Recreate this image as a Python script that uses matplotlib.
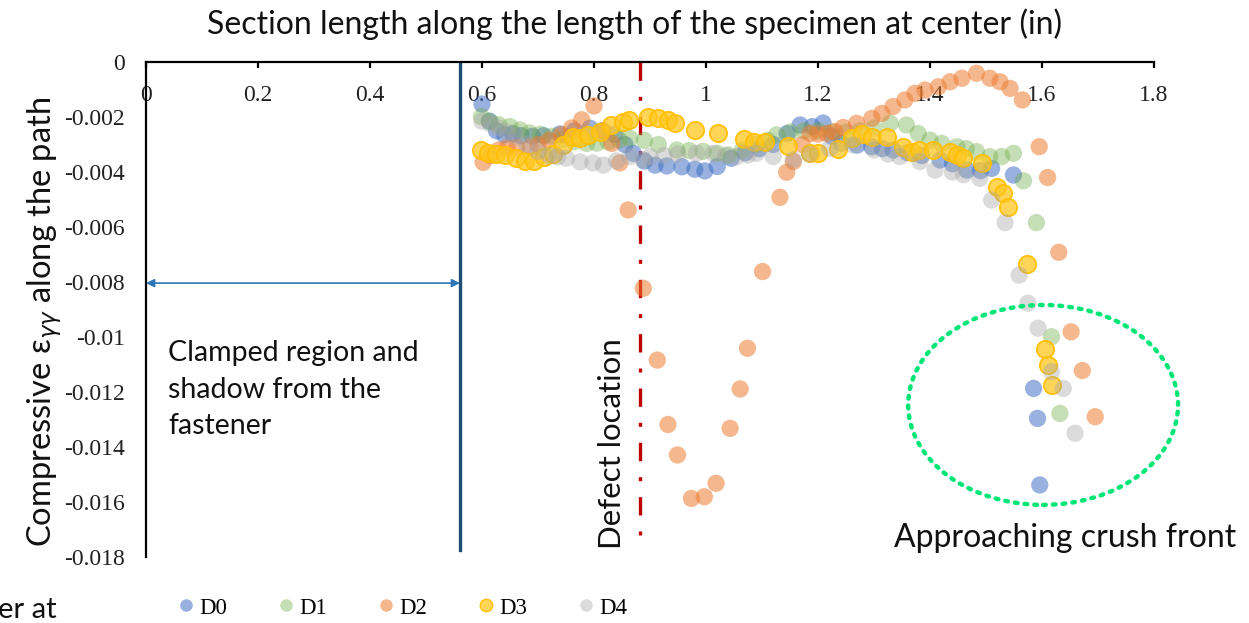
import matplotlib
matplotlib.use("Agg")
import matplotlib.pyplot as plt
from matplotlib.patches import Ellipse
from matplotlib.lines import Line2D

# ---------------- data ----------------
x_ticks = [0, 0.2, 0.4, 0.6, 0.8, 1.0, 1.2, 1.4, 1.6, 1.8]
x_tick_labels = ["0", "0.2", "0.4", "0.6", "0.8", "1", "1.2", "1.4", "1.6", "1.8"]
y_ticks = [0, -0.002, -0.004, -0.006, -0.008, -0.01, -0.012, -0.014, -0.016, -0.018]
y_tick_labels = ["0", "-0.002", "-0.004", "-0.006", "-0.008", "-0.01", "-0.012", "-0.014", "-0.016", "-0.018"]

d0_x = [0.600, 0.613, 0.626, 0.640, 0.655, 0.670, 0.690, 0.710, 0.739, 0.765, 0.793, 0.815, 0.837, 0.855,
        0.870, 0.890, 0.909, 0.930, 0.957, 0.980, 0.998, 1.020, 1.045, 1.070, 1.095, 1.120, 1.145, 1.168,
        1.190, 1.209, 1.225, 1.242, 1.270, 1.296, 1.315, 1.334, 1.360, 1.385, 1.418, 1.440, 1.466, 1.490,
        1.510, 1.549, 1.585, 1.592, 1.596]
d0_y = [-0.00153, -0.00215, -0.00250, -0.00265, -0.00260, -0.00268, -0.00270, -0.00268, -0.00262, -0.00250,
        -0.00241, -0.00250, -0.00263, -0.00300, -0.00332, -0.00360, -0.00375, -0.00378, -0.00381, -0.00390,
        -0.00396, -0.00380, -0.00350, -0.00330, -0.00315, -0.00300, -0.00260, -0.00229, -0.00235, -0.00222,
        -0.00270, -0.00296, -0.00302, -0.00308, -0.00315, -0.00320, -0.00330, -0.00340, -0.00356, -0.00370,
        -0.00393, -0.00395, -0.00387, -0.00411, -0.01187, -0.01296, -0.01538]

d1_x = [0.599, 0.614, 0.630, 0.650, 0.668, 0.685, 0.704, 0.725, 0.745, 0.765, 0.787, 0.805, 0.825, 0.845,
        0.864, 0.890, 0.915, 0.948, 0.970, 0.995, 1.020, 1.040, 1.065, 1.090, 1.110, 1.126, 1.150, 1.175,
        1.200, 1.225, 1.250, 1.275, 1.300, 1.329, 1.358, 1.379, 1.400, 1.421, 1.448, 1.465, 1.483, 1.507,
        1.528, 1.549, 1.567, 1.590, 1.617, 1.632]
d1_y = [-0.00199, -0.00217, -0.00228, -0.00235, -0.00247, -0.00258, -0.00263, -0.00270, -0.00280, -0.00290,
        -0.00296, -0.00295, -0.00290, -0.00283, -0.00278, -0.00285, -0.00300, -0.00320, -0.00322, -0.00325,
        -0.00332, -0.00338, -0.00320, -0.00300, -0.00285, -0.00265, -0.00255, -0.00250, -0.00250, -0.00255,
        -0.00255, -0.00250, -0.00240, -0.00223, -0.00229, -0.00260, -0.00284, -0.00296, -0.00308, -0.00315,
        -0.00326, -0.00344, -0.00344, -0.00332, -0.00432, -0.00584, -0.00999, -0.01278]

d2_x = [0.602, 0.615, 0.630, 0.645, 0.662, 0.686, 0.700, 0.720, 0.742, 0.760, 0.778, 0.800, 0.815, 0.832,
        0.846, 0.861, 0.888, 0.913, 0.932, 0.949, 0.974, 0.997, 1.018, 1.043, 1.061, 1.074, 1.101, 1.132,
        1.144, 1.156, 1.172, 1.186, 1.200, 1.216, 1.230, 1.245, 1.269, 1.296, 1.314, 1.334, 1.355, 1.373,
        1.391, 1.415, 1.436, 1.457, 1.483, 1.507, 1.525, 1.543, 1.565, 1.595, 1.610, 1.630, 1.652, 1.672,
        1.695]
d2_y = [-0.00365, -0.00340, -0.00320, -0.00312, -0.00310, -0.00310, -0.00300, -0.00285, -0.00265, -0.00240,
        -0.00210, -0.00160, -0.00250, -0.00296, -0.00367, -0.00538, -0.00823, -0.01084, -0.01318, -0.01429,
        -0.01587, -0.01581, -0.01532, -0.01332, -0.01189, -0.01041, -0.00762, -0.00492, -0.00401, -0.00362,
        -0.00300, -0.00260, -0.00262, -0.00260, -0.00253, -0.00238, -0.00223, -0.00205, -0.00187, -0.00162,
        -0.00138, -0.00114, -0.00102, -0.00090, -0.00072, -0.00059, -0.00041, -0.00059, -0.00072, -0.00096,
        -0.00138, -0.00308, -0.00420, -0.00692, -0.00981, -0.01122, -0.01290]

d3_x = [0.599, 0.611, 0.625, 0.641, 0.660, 0.677, 0.692, 0.710, 0.727, 0.745, 0.763, 0.775, 0.790, 0.811,
        0.830, 0.852, 0.862, 0.897, 0.915, 0.933, 0.945, 0.980, 1.022, 1.067, 1.085, 1.105, 1.147, 1.186,
        1.200, 1.236, 1.260, 1.278, 1.296, 1.323, 1.352, 1.367, 1.380, 1.406, 1.436, 1.448, 1.459, 1.492,
        1.519, 1.531, 1.540, 1.573, 1.605, 1.611, 1.617]
d3_y = [-0.00320, -0.00332, -0.00335, -0.00338, -0.00350, -0.00360, -0.00360, -0.00345, -0.00336, -0.00300,
        -0.00272, -0.00275, -0.00265, -0.00253, -0.00230, -0.00217, -0.00212, -0.00199, -0.00205, -0.00211,
        -0.00223, -0.00247, -0.00259, -0.00280, -0.00290, -0.00290, -0.00304, -0.00332, -0.00330, -0.00316,
        -0.00277, -0.00260, -0.00271, -0.00271, -0.00308, -0.00326, -0.00320, -0.00320, -0.00326, -0.00338,
        -0.00350, -0.00368, -0.00453, -0.00477, -0.00526, -0.00736, -0.01044, -0.01102, -0.01175]

d4_x = [0.600, 0.615, 0.630, 0.645, 0.660, 0.680, 0.700, 0.720, 0.735, 0.751, 0.775, 0.798, 0.817, 0.840,
        0.864, 0.888, 0.900, 0.925, 0.950, 0.983, 1.013, 1.035, 1.055, 1.075, 1.090, 1.120, 1.156, 1.185,
        1.221, 1.263, 1.300, 1.325, 1.346, 1.382, 1.409, 1.440, 1.460, 1.489, 1.510, 1.534, 1.559, 1.575,
        1.593, 1.617, 1.638, 1.659]
d4_y = [-0.00215, -0.00225, -0.00240, -0.00255, -0.00270, -0.00300, -0.00325, -0.00340, -0.00345, -0.00350,
        -0.00363, -0.00367, -0.00375, -0.00360, -0.00344, -0.00356, -0.00344, -0.00340, -0.00335, -0.00332,
        -0.00332, -0.00340, -0.00344, -0.00338, -0.00332, -0.00344, -0.00356, -0.00335, -0.00314, -0.00302,
        -0.00320, -0.00335, -0.00344, -0.00362, -0.00393, -0.00400, -0.00410, -0.00423, -0.00502, -0.00584,
        -0.00775, -0.00877, -0.00968, -0.01126, -0.01187, -0.01350]

series_names = ["D0", "D1", "D2", "D3", "D4"]

clamp_x = 0.5607
defect_x = 0.882
arrow_y = -0.00804
crush_center = (1.602, -0.01247)

# ---------------- styling ----------------
W, H = 1249, 623
fig = plt.figure(figsize=(W / 100, H / 100), dpi=100)
L, R, T, B = 146, 1154, 62, 557
ax = fig.add_axes([L / W, 1 - B / H, (R - L) / W, (B - T) / H])

serif = "Liberation Serif"
sans = ["Lato", "DejaVu Sans"]
plt.rcParams["mathtext.fontset"] = "dejavusans"

styles = [
    dict(facecolor=(0.267, 0.447, 0.769, 0.55), edgecolor="none"),
    dict(facecolor=(0.439, 0.678, 0.278, 0.40), edgecolor="none"),
    dict(facecolor=(0.929, 0.490, 0.192, 0.55), edgecolor="none"),
    dict(facecolor=(1.0, 0.78, 0.12, 0.75), edgecolor=(1.0, 0.75, 0.0, 0.95), linewidths=1.3),
    dict(facecolor=(0.647, 0.647, 0.647, 0.40), edgecolor="none"),
]
data = [(d0_x, d0_y), (d1_x, d1_y), (d2_x, d2_y), (d3_x, d3_y), (d4_x, d4_y)]
for (xs, ys), st in zip(data, styles):
    ax.scatter(xs, ys, s=155, zorder=3, **st)

ax.set_xlim(0, 1.8)
ax.set_ylim(-0.018, 0)

ax.spines["right"].set_visible(False)
ax.spines["bottom"].set_visible(False)
ax.spines["left"].set_linewidth(1.6)
ax.spines["top"].set_linewidth(1.6)

ax.set_xticks(x_ticks)
ax.set_xticklabels(x_tick_labels, fontfamily=serif, fontsize=17, color="#222222")
ax.xaxis.tick_top()
ax.tick_params(axis="x", direction="in", length=4, width=1.6, pad=-32,
               labeltop=True, labelbottom=False)
ax.set_yticks(y_ticks)
ax.set_yticklabels(y_tick_labels, fontfamily=serif, fontsize=17, color="#222222")
ax.tick_params(axis="y", length=0, pad=15)

# clamp line, arrow and defect line
ax.plot([clamp_x, clamp_x], [0, -0.01775], color="#1F4E79", lw=2.4, zorder=2)
ax.annotate("", xy=(0, arrow_y), xytext=(clamp_x, arrow_y),
            arrowprops=dict(arrowstyle="<|-|>", color="#2E75B6", lw=1.2,
                            mutation_scale=12, shrinkA=0, shrinkB=0))
ax.plot([defect_x, defect_x], [0, -0.0176], color="#C00000", lw=2.4,
        linestyle=(0, (5.5, 4.8, 1.2, 4.8)), zorder=2)

ell = Ellipse(crush_center, width=0.482, height=0.00727, fill=False,
              edgecolor="#00E676", lw=3.2, linestyle=(0, (0.6, 1.6)),
              capstyle="round", zorder=4, clip_on=False)
ax.add_patch(ell)

# texts
fig.text(635 / W, 1 - 24 / H, "Section length along the length of the specimen at center (in)",
         ha="center", va="center", fontsize=23, family=sans, color="#111111")
fig.text(45 / W, 1 - 322 / H, r"Compressive ε$_{\gamma\gamma}$ along the path",
         ha="center", va="center", rotation=90, fontsize=23.5, family=sans, color="#111111")
fig.text(168 / W, 1 - 390 / H, "Clamped region and\nshadow from the\nfastener",
         ha="left", va="center", fontsize=20.5, family=sans, color="#111111", linespacing=1.5)
fig.text(612 / W, 1 - 444 / H, "Defect location",
         ha="center", va="center", rotation=90, fontsize=22.5, family=sans, color="#111111")
fig.text(1065 / W, 1 - 538 / H, "Approaching crush front",
         ha="center", va="center", fontsize=23, family=sans, color="#111111")
fig.text(-2 / W, 1 - 610 / H, "er at",
         ha="left", va="center", fontsize=21, family=sans, color="#111111")

# legend
handles = []
for name, st in zip(series_names, styles):
    handles.append(Line2D([], [], linestyle="none", marker="o", markersize=9,
                          markerfacecolor=st["facecolor"],
                          markeredgecolor=st["edgecolor"] if st["edgecolor"] != "none" else st["facecolor"],
                          markeredgewidth=1.0 if st["edgecolor"] != "none" else 0,
                          label=name))
fig.legend(handles=handles, loc="center", bbox_to_anchor=(402 / W, 1 - 608 / H), ncol=5,
           frameon=False, prop=dict(family=serif, size=16.5), handlelength=0.8,
           handletextpad=0.15, columnspacing=2.2, borderpad=0)

fig.savefig("out.png", dpi=100)
